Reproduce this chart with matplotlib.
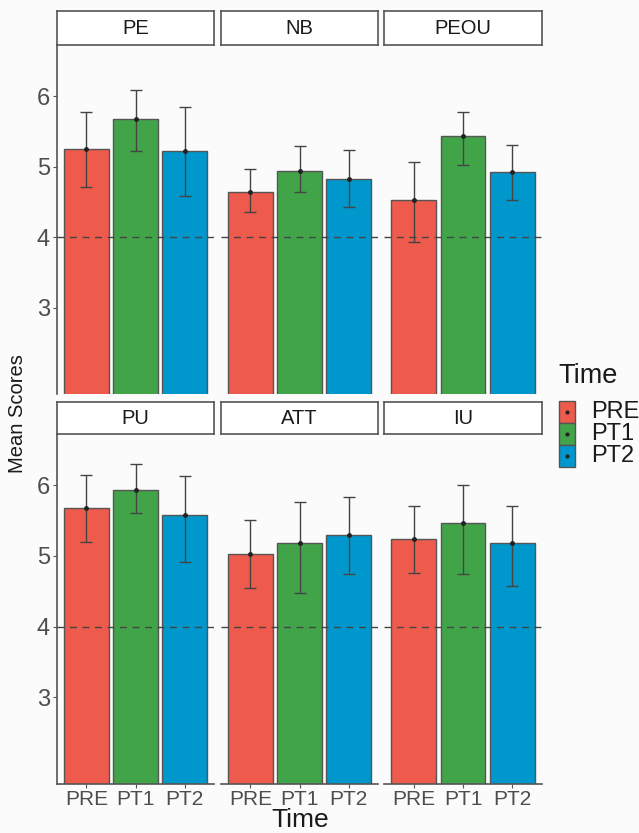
import numpy as np
import matplotlib
matplotlib.use("Agg")
import matplotlib.pyplot as plt
from matplotlib.patches import Rectangle

plt.rcParams["font.family"] = ["Liberation Sans", "DejaVu Sans"]

# Data
constructs = ["PE", "NB", "PEOU", "PU", "ATT", "IU"]
times = ["PRE", "PT1", "PT2"]
colors = ["#EE5B4D", "#41A449", "#0097CC"]

means = {
    "PE":   [5.25, 5.67, 5.22],
    "NB":   [4.64, 4.94, 4.82],
    "PEOU": [4.53, 5.43, 4.92],
    "PU":   [5.68, 5.94, 5.58],
    "ATT":  [5.03, 5.18, 5.30],
    "IU":   [5.24, 5.46, 5.18],
}
err_low = {
    "PE":   [4.71, 5.22, 4.59],
    "NB":   [4.36, 4.64, 4.43],
    "PEOU": [3.93, 5.02, 4.53],
    "PU":   [5.20, 5.61, 4.92],
    "ATT":  [4.55, 4.47, 4.75],
    "IU":   [4.76, 4.75, 4.58],
}
err_high = {
    "PE":   [5.77, 6.08, 5.85],
    "NB":   [4.97, 5.29, 5.23],
    "PEOU": [5.07, 5.78, 5.31],
    "PU":   [6.15, 6.30, 6.13],
    "ATT":  [5.51, 5.76, 5.84],
    "IU":   [5.70, 6.01, 5.71],
}

W, H = 639, 833
fig = plt.figure(figsize=(W / 100, H / 100), dpi=100)
fig.patch.set_facecolor("#FCFBFB")

panel_x = [(57, 214), (221, 378), (384, 542)]
rows = [((11, 45), (45, 394)), ((402, 434), (434, 784))]

def fbox(x0, x1, y0, y1):
    return [x0 / W, 1 - y1 / H, (x1 - x0) / W, (y1 - y0) / H]

tick_col = "#4D4D4D"
x = np.arange(len(times))

for i, name in enumerate(constructs):
    r, c = divmod(i, 3)
    (sy0, sy1), (py0, py1) = rows[r]
    px0, px1 = panel_x[c]

    # strip
    sax = fig.add_axes(fbox(px0, px1, sy0, sy1))
    sax.set_xticks([])
    sax.set_yticks([])
    sax.set_facecolor("white")
    for s in sax.spines.values():
        s.set_color("#555555")
        s.set_linewidth(1.2)
    sax.text(0.5, 0.5, name, ha="center", va="center", fontsize=14.5,
             color="#1A1A1A", transform=sax.transAxes)

    ax = fig.add_axes(fbox(px0, px1, py0, py1))
    ax.set_facecolor("none")
    m = np.array(means[name])
    lo = np.array(err_low[name])
    hi = np.array(err_high[name])
    ax.bar(x, m, width=0.9, color=colors, edgecolor="#555555", linewidth=1.0, zorder=2)
    ax.errorbar(x, m, yerr=[m - lo, hi - m], fmt="o", ms=2.5, color="#222222",
                ecolor="#444444", elinewidth=1.0, capsize=4, capthick=1.0, zorder=3)
    ax.axhline(4, color="#444444", linestyle=(0, (5, 4)), linewidth=1.0, zorder=4)
    ax.set_xlim(-0.6, 2.6)
    ax.set_ylim(1.775, 6.725)

    for s in ["top", "right"]:
        ax.spines[s].set_visible(False)
    ax.spines["left"].set_color("#555555")
    ax.spines["bottom"].set_color("#555555")
    ax.spines["left"].set_linewidth(1.2)
    ax.spines["bottom"].set_linewidth(1.2)

    ax.set_yticks([3, 4, 5, 6])
    ax.tick_params(axis="y", length=3, color="#555555", labelcolor=tick_col,
                   labelsize=17, pad=2)
    ax.tick_params(axis="x", length=3, color="#555555", labelcolor=tick_col,
                   labelsize=15, pad=1)
    if c != 0:
        ax.spines["left"].set_visible(False)
        ax.tick_params(axis="y", left=False, labelleft=False)
    if r == 0:
        ax.spines["bottom"].set_visible(False)
        ax.tick_params(axis="x", bottom=False, labelbottom=False)
    else:
        ax.set_xticks(x)
        ax.set_xticklabels(times)

fig.text(18 / W, 1 - 414 / H, "Mean Scores", rotation=90, ha="center", va="center",
         fontsize=14.5, color="#1A1A1A")
fig.text(300 / W, 1 - 827 / H, "Time", ha="center", va="baseline",
         fontsize=19, color="#1A1A1A")

# legend
fig.text(558 / W, 1 - 376 / H, "Time", ha="left", va="center", fontsize=19.5,
         color="#1A1A1A")
for k, (t, col) in enumerate(zip(times, colors)):
    ky0 = 401 + k * 22
    lax = fig.add_axes(fbox(559, 575, ky0, ky0 + 22))
    lax.set_xlim(0, 1)
    lax.set_ylim(0, 1)
    lax.axis("off")
    lax.add_patch(Rectangle((0, 0), 1, 1, facecolor=col, edgecolor="#555555",
                            linewidth=1.0, transform=lax.transAxes, clip_on=False))
    lax.plot([0.5], [0.5], "o", ms=2, color="#222222")
    fig.text(591 / W, 1 - (ky0 + 11) / H, t, ha="left", va="center", fontsize=17,
             color="#1A1A1A")

fig.savefig("out.png", dpi=100, facecolor=fig.get_facecolor())
